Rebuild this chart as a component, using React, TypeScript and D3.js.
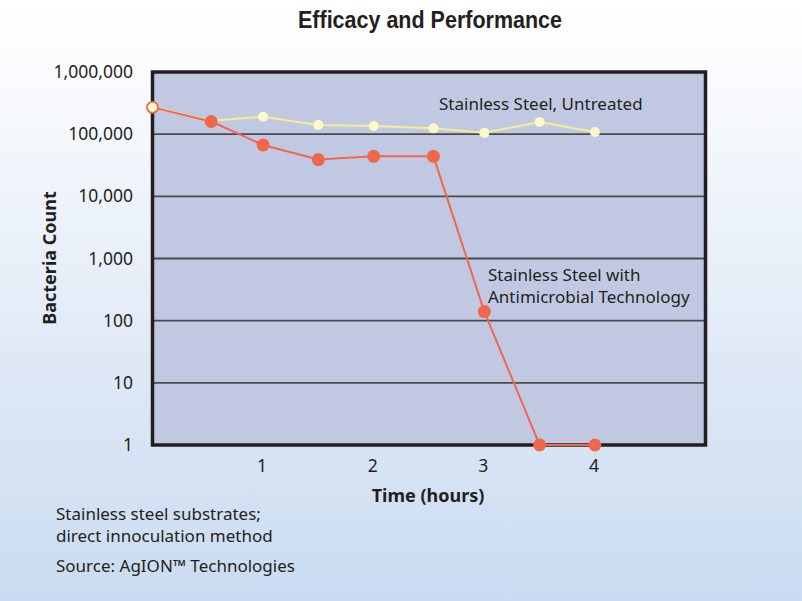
import React, { useRef, useEffect } from "react";
import * as d3 from "d3";

// hours after inoculation
const hours = [0, 0.53, 1, 1.5, 2, 2.54, 3, 3.5, 4];
const untreated = [270000, 165000, 190000, 141000, 135000, 124000, 105000, 157000, 108000];
const antimicrobial = [270000, 160000, 67000, 39000, 44000, 44000, 140, 1, 1];
const yTicks = [1, 10, 100, 1000, 10000, 100000, 1000000];
const xTicks = [1, 2, 3, 4];
const notes = ["Stainless steel substrates;", "direct innoculation method"];
const source = "Source: AgION™ Technologies";

const FONT = "'Noto Sans', 'Open Sans', sans-serif";

const App: React.FC = () => {
  const ref = useRef<SVGSVGElement | null>(null);

  useEffect(() => {
    const svg = d3.select(ref.current);
    svg.selectAll("*").remove();

    const W = 802;
    const H = 601;
    const plot = { left: 152.5, right: 705.5, top: 72, bottom: 445 };

    const x = d3.scaleLinear().domain([0, 5]).range([plot.left, plot.right]);
    const y = d3.scaleLog().domain([1, 1000000]).range([plot.bottom, plot.top]);

    // page background
    const defs = svg.append("defs");
    const grad = defs
      .append("linearGradient")
      .attr("id", "bg")
      .attr("x1", 0)
      .attr("y1", 0)
      .attr("x2", 0)
      .attr("y2", 1);
    grad.append("stop").attr("offset", "0").attr("stop-color", "#ffffff");
    grad.append("stop").attr("offset", "0.1").attr("stop-color", "#fbfcfe");
    grad.append("stop").attr("offset", "0.6").attr("stop-color", "#dfe9f6");
    grad.append("stop").attr("offset", "1").attr("stop-color", "#cadbf1");
    svg.append("rect").attr("width", W).attr("height", H).attr("fill", "url(#bg)");

    // title (condensed look)
    svg
      .append("text")
      .attr("x", 298)
      .attr("y", 28)
      .attr("textLength", 264)
      .attr("lengthAdjust", "spacingAndGlyphs")
      .style("font-family", "'Liberation Sans', Arial, sans-serif")
      .style("font-size", "24px")
      .style("font-weight", "bold")
      .attr("fill", "#231f20")
      .text("Efficacy and Performance");

    // plot area
    svg
      .append("rect")
      .attr("x", plot.left)
      .attr("y", plot.top)
      .attr("width", plot.right - plot.left)
      .attr("height", plot.bottom - plot.top)
      .attr("fill", "#c1c9e2");

    // gridlines
    svg
      .append("g")
      .selectAll("line")
      .data(yTicks.slice(1, -1))
      .join("line")
      .attr("x1", plot.left)
      .attr("x2", plot.right)
      .attr("y1", (d) => y(d))
      .attr("y2", (d) => y(d))
      .attr("stroke", "#4a4a4f")
      .attr("stroke-width", 1.8);

    // frame
    svg
      .append("rect")
      .attr("x", plot.left)
      .attr("y", plot.top)
      .attr("width", plot.right - plot.left)
      .attr("height", plot.bottom - plot.top)
      .attr("fill", "none")
      .attr("stroke", "#231f20")
      .attr("stroke-width", 3.5);

    // y tick labels
    svg
      .append("g")
      .selectAll("text")
      .data(yTicks)
      .join("text")
      .attr("x", 133)
      .attr("y", (d) => y(d) + 6)
      .attr("text-anchor", "end")
      .style("font-family", FONT)
      .style("font-size", "17.5px")
      .attr("fill", "#231f20")
      .text((d) => d3.format(",")(d));

    // x tick labels
    svg
      .append("g")
      .selectAll("text")
      .data(xTicks)
      .join("text")
      .attr("x", (d) => x(d) - 1)
      .attr("y", 472)
      .attr("text-anchor", "middle")
      .style("font-family", FONT)
      .style("font-size", "17.5px")
      .attr("fill", "#231f20")
      .text((d) => d);

    // axis titles
    svg
      .append("text")
      .attr("x", 428)
      .attr("y", 502)
      .attr("text-anchor", "middle")
      .style("font-family", FONT)
      .style("font-size", "18px")
      .style("font-weight", "bold")
      .attr("fill", "#231f20")
      .text("Time (hours)");

    svg
      .append("text")
      .attr("transform", "translate(56,258) rotate(-90)")
      .attr("text-anchor", "middle")
      .style("font-family", FONT)
      .style("font-size", "18px")
      .style("font-weight", "bold")
      .attr("fill", "#231f20")
      .text("Bacteria Count");

    const line = d3
      .line<number>()
      .x((_, i) => x(hours[i]))
      .y((d) => y(d));

    // untreated series
    svg
      .append("path")
      .datum(untreated)
      .attr("fill", "none")
      .attr("stroke", "#f4ed92")
      .attr("stroke-width", 2)
      .attr("d", line);
    svg
      .append("g")
      .selectAll("circle")
      .data(untreated)
      .join("circle")
      .attr("cx", (_, i) => x(hours[i]))
      .attr("cy", (d) => y(d))
      .attr("r", 5)
      .attr("fill", "#fdf9c6");

    // antimicrobial series
    svg
      .append("path")
      .datum(antimicrobial)
      .attr("fill", "none")
      .attr("stroke", "#f1674b")
      .attr("stroke-width", 2)
      .attr("d", line);
    svg
      .append("g")
      .selectAll("circle")
      .data(antimicrobial)
      .join("circle")
      .attr("cx", (_, i) => x(hours[i]))
      .attr("cy", (d) => y(d))
      .attr("r", (_, i) => (i === 0 ? 5.5 : 6.5))
      .attr("fill", (_, i) => (i === 0 ? "#fdf9c6" : "#f1674b"))
      .attr("stroke", "#f1674b")
      .attr("stroke-width", (_, i) => (i === 0 ? 1.8 : 0));

    // series labels
    const label = (lines: string[], lx: number, ly: number) =>
      svg
        .append("text")
        .style("font-family", FONT)
        .style("font-size", "17px")
        .attr("fill", "#231f20")
        .selectAll("tspan")
        .data(lines)
        .join("tspan")
        .attr("x", lx)
        .attr("y", (_, i) => ly + i * 22)
        .text((d) => d);

    label(["Stainless Steel, Untreated"], 439, 110);
    label(["Stainless Steel with", "Antimicrobial Technology"], 488, 281);

    // footnotes
    svg
      .append("text")
      .style("font-family", FONT)
      .style("font-size", "17px")
      .attr("fill", "#231f20")
      .selectAll("tspan")
      .data([...notes, source])
      .join("tspan")
      .attr("x", 56)
      .attr("y", (_, i) => 520 + i * 22 + (i === 2 ? 8 : 0))
      .text((d) => d);
  }, []);

  return (
    <svg
      ref={ref}
      width={802}
      height={601}
      style={{ position: "absolute", left: 0, top: 0, display: "block" }}
    />
  );
};

export default App;
